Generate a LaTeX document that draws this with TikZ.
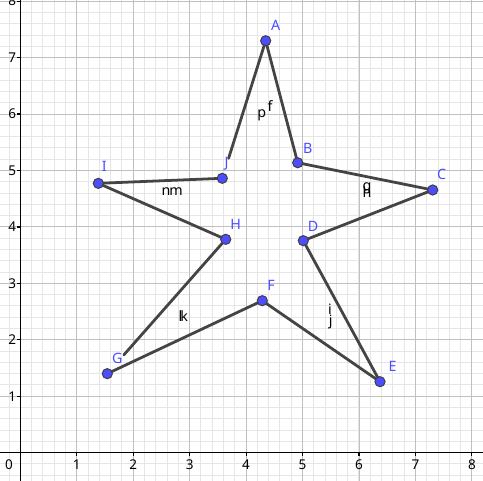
\documentclass[tikz,border=0pt]{standalone}
\usepackage{fontspec}
\setmainfont{Noto Sans}
\usetikzlibrary{calc}
\definecolor{ptblue}{RGB}{77,77,255}
\definecolor{seggray}{RGB}{68,68,68}
\definecolor{majgrid}{RGB}{192,192,192}
\definecolor{mingrid}{RGB}{230,230,230}
\tikzset{
  mingridline/.style={draw=mingrid, line width=0.5pt},
  majgridline/.style={draw=majgrid, line width=0.5pt},
  axisline/.style={draw=black, line width=0.6pt},
  seg/.style={draw=seggray, line width=1.4pt, line cap=round},
  ptdot/.style={circle, fill=ptblue, draw=black!75, line width=0.5pt, minimum size=0.18cm, inner sep=0pt},
  ptlabel/.style={text=ptblue, font=\fontsize{7.2}{8}\selectfont, inner sep=0pt},
  seglabel/.style={text=black, font=\fontsize{7.2}{8}\selectfont, inner sep=0pt, anchor=base},
  axnum/.style={text=black, font=\fontsize{6.8}{8}\selectfont, inner sep=0pt}
}
\begin{document}
\begin{tikzpicture}
\useasboundingbox (-0.360,-0.501) rectangle (8.197,8.020);
\clip (-0.360,-0.501) rectangle (8.197,8.020);
\fill[white] (-0.360,-0.501) rectangle (8.197,8.020);
% grid
\draw[mingridline] (-0.4,-0.6) grid[step=0.2] (8.4,8.2);
\draw[majgridline] (-1,-1) grid[step=1] (9,9);
% axes
\draw[axisline] (-0.4,0) -- (8.3,0);
\draw[axisline] (0,-0.6) -- (0,8.1);
\foreach \i in {1,...,8} {
  \draw[axisline] (\i,0) -- (\i,-0.06);
  \draw[axisline] (0,\i) -- (-0.06,\i);
  \node[axnum] (xn\i) at (\i,-0.22) {\i};
  \node[axnum, anchor=east] (yn\i) at (-0.07,\i) {\i};
}
\node[axnum] (zero) at (-0.20,-0.22) {0};
% points
\coordinate (A) at (4.347,7.298);
\coordinate (B) at (4.914,5.137);
\coordinate (C) at (7.306,4.654);
\coordinate (D) at (5.013,3.756);
\coordinate (E) at (6.372,1.258);
\coordinate (F) at (4.287,2.693);
\coordinate (G) at (1.541,1.400);
\coordinate (H) at (3.639,3.780);
\coordinate (I) at (1.382,4.772);
\coordinate (J) at (3.578,4.861);
\coordinate (Jend) at ($(A)!0.855!(J)$);
\coordinate (Gend) at ($(H)!0.86!(G)$);
% segments
\draw[seg] (A) -- (B);
\draw[seg] (B) -- (C);
\draw[seg] (C) -- (D);
\draw[seg] (D) -- (E);
\draw[seg] (E) -- (F);
\draw[seg] (F) -- (G);
\draw[seg] (H) -- (Gend);
\draw[seg] (H) -- (I);
\draw[seg] (I) -- (J);
\draw[seg] (A) -- (Jend);
% point markers
\foreach \p in {A,B,C,D,E,F,G,H,I,J} {
  \node[ptdot] (dot\p) at (\p) {};
}
% point labels
\node[ptlabel] (lA) at (4.524,7.574) {A};
\node[ptlabel] (lB) at (5.091,5.398) {B};
\node[ptlabel] (lC) at (7.465,4.938) {C};
\node[ptlabel] (lD) at (5.185,4.016) {D};
\node[ptlabel] (lE) at (6.597,1.523) {E};
\node[ptlabel] (lF) at (4.441,2.971) {F};
\node[ptlabel] (lG) at (1.718,1.672) {G};
\node[ptlabel] (lH) at (3.816,4.051) {H};
\node[ptlabel] (lI) at (1.488,5.066) {I};
\node[ptlabel] (lJ) at (3.656,5.127) {J};
% segment labels
\node[seglabel] (sp) at (4.276,5.934) {p};
\node[seglabel] (sf) at (4.423,6.053) {f};
\node[seglabel] (sn) at (2.581,4.553) {n};
\node[seglabel] (sm) at (2.758,4.553) {m};
\node[seglabel] (sg) at (6.142,4.650) {g};
\node[seglabel] (sh) at (6.142,4.521) {h};
\node[seglabel] (si) at (5.486,2.457) {i};
\node[seglabel] (sj) at (5.499,2.262) {j};
\node[seglabel] (sl) at (2.838,2.321) {l};
\node[seglabel] (sk) at (2.905,2.321) {k};
\end{tikzpicture}
\end{document}
